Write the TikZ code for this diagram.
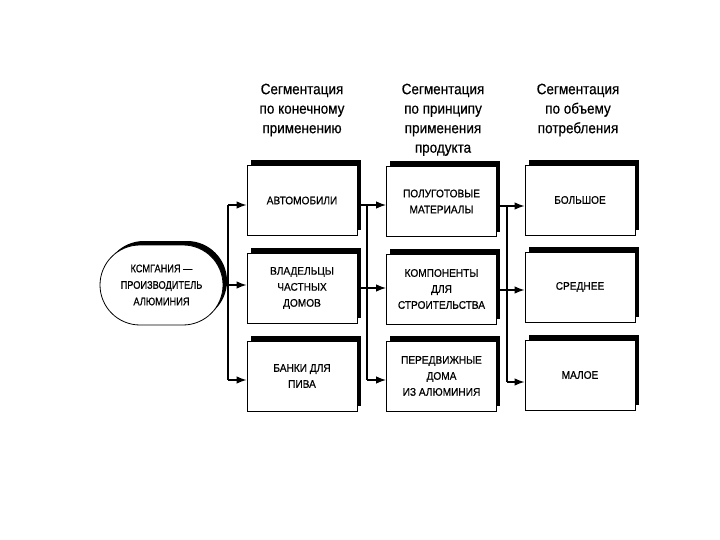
\documentclass[tikz,border=0pt]{standalone}
\usepackage{fontspec}
\setmainfont{Liberation Sans}
\newfontfamily\hdrfont[FakeStretch=0.9,FakeBold=0.4]{Liberation Sans}
\newfontfamily\boxfont[FakeStretch=0.92,FakeBold=0.5]{Liberation Sans}
\newfontfamily\stfont[FakeStretch=0.84,FakeBold=0.5]{Liberation Sans}
\usetikzlibrary{arrows.meta,shadows,shapes.misc}
\begin{document}
\begin{tikzpicture}[x=1pt,y=-1pt,
  segbox/.style={draw, line width=0.8pt, fill=white, minimum width=110pt, minimum height=70pt,
    inner sep=0pt, align=center, font=\boxfont\fontsize{11}{16}\selectfont,
    drop shadow={shadow xshift=3.5pt, shadow yshift=5pt, fill=black, opacity=1}},
  stadium/.style={rounded rectangle, draw, line width=0.8pt, fill=white, minimum width=123pt,
    minimum height=80pt, inner sep=0pt, align=center, font=\stfont\fontsize{11}{16.5}\selectfont,
    drop shadow={shadow xshift=4pt, shadow yshift=4pt, fill=black, opacity=1}},
  hdr/.style={align=center, anchor=north, inner sep=0pt, font=\hdrfont\fontsize{15}{19.5}\selectfont},
  conn/.style={line width=1.4pt},
  arr/.style={line width=1.4pt, -{Latex[length=10pt,width=7.5pt]}}
]
\useasboundingbox (0,0) rectangle (720,540);
\fill[white] (0,0) rectangle (720,540);

% headers
\node[hdr] (h1) at (302,83.5) {Сегментация\\по конечному\\применению};
\node[hdr] (h2) at (443,83.5) {Сегментация\\по принципу\\применения\\продукта};
\node[hdr] (h3) at (578,83.5) {Сегментация\\по объему\\потребления};

% source
\node[stadium] (st) at (161.5,285) {КСМГАНИЯ —\\ПРОИЗВОДИТЕЛЬ\\АЛЮМИНИЯ};

% column 1
\node[segbox] (b11) at (302,200.5) {АВТОМОБИЛИ};
\node[segbox] (b12) at (302,288) {ВЛАДЕЛЬЦЫ\\ЧАСТНЫХ\\ДОМОВ};
\node[segbox] (b13) at (302,376) {БАНКИ ДЛЯ\\ПИВА};

% column 2
\node[segbox] (b21) at (441.5,201.5) {ПОЛУГОТОВЫЕ\\МАТЕРИАЛЫ};
\node[segbox] (b22) at (441.5,289) {КОМПОНЕНТЫ\\ДЛЯ\\СТРОИТЕЛЬСТВА};
\node[segbox] (b23) at (441.5,376) {ПЕРЕДВИЖНЫЕ\\ДОМА\\ИЗ АЛЮМИНИЯ};

% column 3
\node[segbox] (b31) at (580,200) {БОЛЬШОЕ};
\node[segbox] (b32) at (580,287) {СРЕДНЕЕ};
\node[segbox] (b33) at (580,375) {МАЛОЕ};

% bus coordinates
\coordinate (j1a) at (228,205);
\coordinate (j1c) at (228,380);
\coordinate (j2a) at (367,205);
\coordinate (j2c) at (367,380);
\coordinate (j3a) at (507,206);
\coordinate (j3c) at (507,382);

% bus 1
\draw[conn] (j1a) -- (j1c);
\draw[arr] (st.east) -- (st.east -| b12.west);
\draw[arr] (j1a) -- (j1a -| b11.west);
\draw[arr] (j1c) -- (j1c -| b13.west);

% bus 2
\draw[conn] (j2a) -- (j2c);
\draw[arr] (j2a -| b11.east) -- (j2a -| b21.west);
\draw[arr] (b12.east) -- (b12.east -| b22.west);
\draw[arr] (j2c) -- (j2c -| b23.west);

% bus 3
\draw[conn] (j3a) -- (j3c);
\draw[arr] (j3a -| b21.east) -- (j3a -| b31.west);
\draw[arr] ([yshift=-1pt]b22.east) -- ([yshift=-1pt]b22.east -| b32.west);
\draw[arr] (j3c) -- (j3c -| b33.west);
\end{tikzpicture}
\end{document}
